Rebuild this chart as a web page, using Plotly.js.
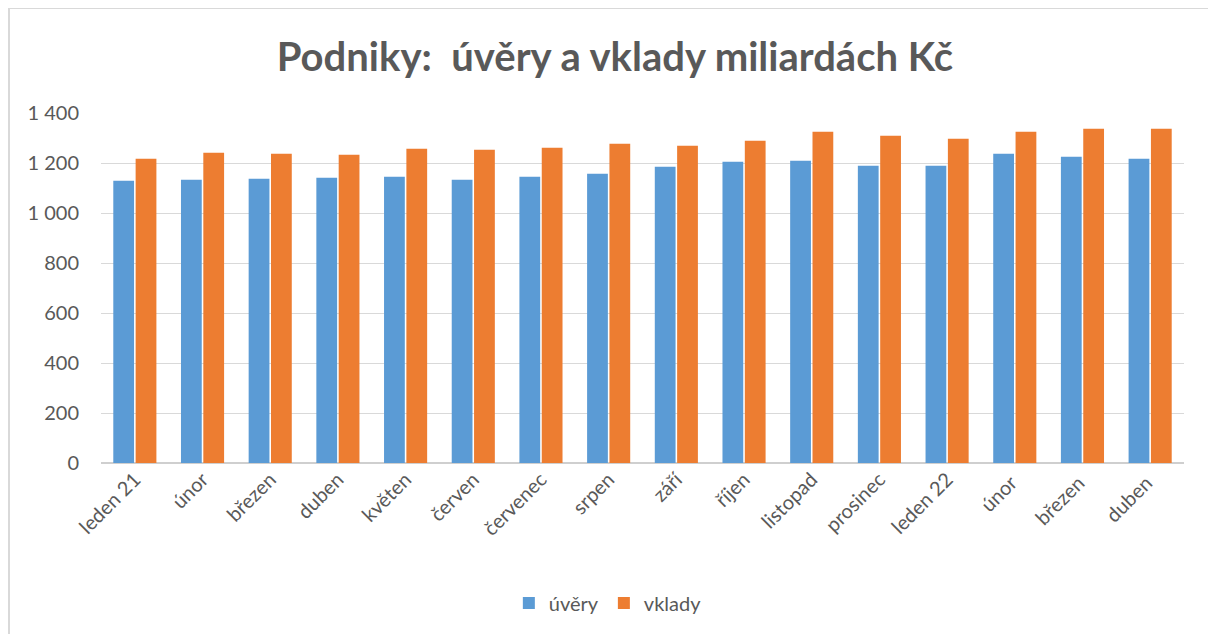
<!DOCTYPE html>
<html>
<head>
<meta charset="utf-8">
<script src="https://cdn.plot.ly/plotly-3.0.1.min.js"></script>
<style>
  html, body { margin: 0; padding: 0; background: #fff; }
  #frame { position: absolute; left: 8px; top: 8px; width: 1210px; height: 640px;
           border-left: 2px solid #d9d9d9; border-top: 1px solid #d9d9d9; box-sizing: border-box; }
  #chart { position: absolute; left: 0; top: 0; width: 1208px; height: 634px; }
</style>
</head>
<body>
<div id="frame"></div>
<div id="chart"></div>
<script>
const categories = ["leden 21", "únor", "březen", "duben", "květen", "červen", "červenec", "srpen",
                    "září", "říjen", "listopad", "prosinec", "leden 22", "únor ", "březen ", "duben "];
const uvery  = [1129, 1133, 1137, 1141, 1145, 1133, 1145, 1157, 1185, 1205, 1209, 1189, 1189, 1237, 1225, 1217];
const vklady = [1217, 1241, 1237, 1233, 1257, 1253, 1261, 1277, 1269, 1289, 1325, 1309, 1297, 1325, 1337, 1337];
const yTicks = [0, 200, 400, 600, 800, 1000, 1200, 1400];

const textColor = "#595959";
const font = "Lato, 'Open Sans', 'Liberation Sans', sans-serif";

const traces = [
  { type: "bar", name: "úvěry", x: categories, y: uvery,
    marker: { color: "#5b9bd5" }, hoverinfo: "x+y" },
  { type: "bar", name: "vklady", x: categories, y: vklady,
    marker: { color: "#ed7d31" }, hoverinfo: "x+y" }
];

const layout = {
  width: 1208, height: 634,
  paper_bgcolor: "rgba(0,0,0,0)", plot_bgcolor: "rgba(0,0,0,0)",
  margin: { l: 101, r: 24, t: 113, b: 171 },
  separators: ", ",
  font: { family: font, color: textColor, size: 20 },
  title: { text: "Podniky:  úvěry a vklady miliardách Kč", x: 0.509, xref: "container", xanchor: "center",
           y: 0.91, yanchor: "middle",
           font: { family: font, size: 40, color: textColor, weight: "bold" } },
  barmode: "group", bargap: 0.34, bargroupgap: 0.07,
  xaxis: { type: "category", tickangle: -45, showgrid: false, showline: false, zeroline: false,
           ticks: "", tickfont: { size: 20, color: textColor }, automargin: false },
  yaxis: { range: [0, 1400], tickvals: yTicks, tickformat: ",d",
           showgrid: true, gridcolor: "#d9d9d9", gridwidth: 1,
           zeroline: true, zerolinecolor: "#cfcfcf", zerolinewidth: 2,
           showline: false, ticks: "", ticklabelstandoff: 21,
           tickfont: { size: 20, color: textColor }, automargin: false },
  showlegend: true,
  legend: { orientation: "h", x: 0.468, xanchor: "center", y: -0.40, yanchor: "middle",
            font: { size: 20, color: textColor }, traceorder: "normal", itemwidth: 30 }
};

Plotly.newPlot("chart", traces, layout, { displayModeBar: false, staticPlot: true });
</script>
</body>
</html>
